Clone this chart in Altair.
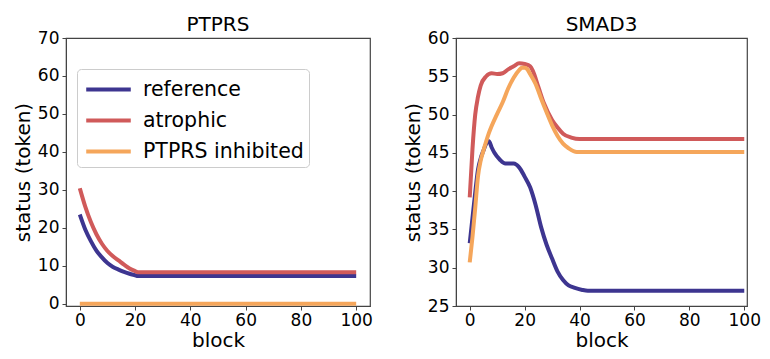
import altair as alt
import pandas as pd

conditions = ["reference", "atrophic", "PTPRS inhibited"]
colors = ["#3d3590", "#d05a5a", "#f5a65b"]

# PTPRS panel
ptprs_ref_block = [0, 2, 4, 6, 8, 10, 12, 14, 16, 18, 20, 21, 100]
ptprs_ref_val = [23.5, 19.5, 16.5, 14.0, 12.2, 10.7, 9.7, 9.0, 8.4, 7.9, 7.5, 7.3, 7.3]
ptprs_atr_block = [0, 2, 4, 6, 8, 10, 12, 14, 16, 18, 20, 21, 100]
ptprs_atr_val = [30.4, 25.5, 21.5, 18.3, 15.8, 13.9, 12.5, 11.4, 10.3, 9.3, 8.6, 8.3, 8.3]
ptprs_inh_block = [0, 100]
ptprs_inh_val = [0.0, 0.0]

# SMAD3 panel
smad3_ref_block = [0, 1, 2, 3, 4, 5, 6, 7, 8, 9, 11, 13, 16, 18, 20, 22, 24, 26, 28, 30, 32, 34, 36, 38, 41, 43, 100]
smad3_ref_val = [33.2, 36.5, 39.8, 42.8, 44.3, 45.3, 46.2, 46.5, 45.7, 45.0, 44.1, 43.6, 43.6, 43.1, 41.9, 40.5, 38.2, 35.3, 33.0, 31.2, 29.5, 28.4, 27.7, 27.4, 27.1, 27.0, 27.0]
smad3_atr_block = [0, 1, 2, 3, 4, 6, 8, 10, 12, 14, 16, 18, 20, 22, 23, 25, 27, 30, 32, 34, 37, 40, 100]
smad3_atr_val = [39.2, 45.5, 50.0, 52.3, 53.8, 55.0, 55.4, 55.3, 55.4, 55.9, 56.3, 56.7, 56.6, 56.3, 55.7, 53.6, 51.5, 49.3, 48.3, 47.5, 47.0, 46.8, 46.8]
smad3_inh_block = [0, 1, 2, 3, 4, 5, 7, 10, 12, 14, 16, 18, 19, 20, 21, 22, 24, 26, 28, 30, 32, 34, 36, 39, 100]
smad3_inh_val = [30.7, 34.0, 37.8, 41.9, 44.0, 45.3, 47.6, 50.1, 51.6, 53.4, 54.8, 55.8, 56.1, 56.1, 55.9, 55.3, 54.0, 52.1, 50.3, 48.6, 47.2, 46.2, 45.6, 45.1, 45.1]


def frame(series):
    rows = []
    for cond, blocks, vals in series:
        for b, v in zip(blocks, vals):
            rows.append({"condition": cond, "block": b, "status": v,
                         "k": conditions.index(cond)})
    return pd.DataFrame(rows)


ptprs_df = frame([
    ("reference", ptprs_ref_block, ptprs_ref_val),
    ("atrophic", ptprs_atr_block, ptprs_atr_val),
    ("PTPRS inhibited", ptprs_inh_block, ptprs_inh_val),
])
smad3_df = frame([
    ("reference", smad3_ref_block, smad3_ref_val),
    ("atrophic", smad3_atr_block, smad3_atr_val),
    ("PTPRS inhibited", smad3_inh_block, smad3_inh_val),
])

legend = alt.Legend(
    title=None, orient="none", legendX=11, legendY=31,
    symbolType="M-1.65,0L1.65,0", symbolSize=729, symbolStrokeWidth=4,
    labelFontSize=20.5, labelFont="DejaVu Sans", labelColor="black", labelLimit=400,
    labelOffset=19, symbolOffset=11, padding=5, rowPadding=5,
    strokeColor="#cccccc", fillColor="white", cornerRadius=4,
)


def panel(df, title, xdom, ydom, yticks, width, leg):
    return alt.Chart(df).mark_line(strokeWidth=4, interpolate="monotone", clip=True).encode(
        x=alt.X("block:Q", scale=alt.Scale(domain=xdom, nice=False, zero=False),
                axis=alt.Axis(values=[0, 20, 40, 60, 80, 100], title="block",
                              labelPadding=2, titlePadding=2)),
        y=alt.Y("status:Q", scale=alt.Scale(domain=ydom, nice=False, zero=False),
                axis=alt.Axis(values=yticks, title="status (token)",
                              labelPadding=3, titlePadding=4)),
        color=alt.Color("condition:N", scale=alt.Scale(domain=conditions, range=colors),
                        sort=conditions, legend=leg),
        order=alt.Order("k:Q"),
    ).properties(width=width, height=268,
                 title=alt.TitleParams(title, frame="group", offset=-6))


left = panel(ptprs_df, "PTPRS", [-5, 105], [-0.6, 70], [0, 10, 20, 30, 40, 50, 60, 70], 304, legend)
right = panel(smad3_df, "SMAD3", [-5, 101], [25, 60], [25, 30, 35, 40, 45, 50, 55, 60], 291, None)

chart = alt.hconcat(left, right, spacing=28).resolve_scale(color="independent").properties(
    padding={"left": 4, "top": 6, "right": 0, "bottom": 0}
).configure_view(
    stroke="#444444", strokeWidth=1.2
).configure_axis(
    grid=False, domainColor="#444444", tickColor="#444444", tickSize=4,
    labelFontSize=17, labelFont="DejaVu Sans", labelColor="black",
    titleFontSize=20, titleFont="DejaVu Sans", titleFontWeight="normal", titleColor="black",
    labelFlush=False,
).configure_title(
    fontSize=20, font="DejaVu Sans", fontWeight="normal", color="black"
)

chart.save("out.html", embed_options={"renderer": "svg", "actions": False})
